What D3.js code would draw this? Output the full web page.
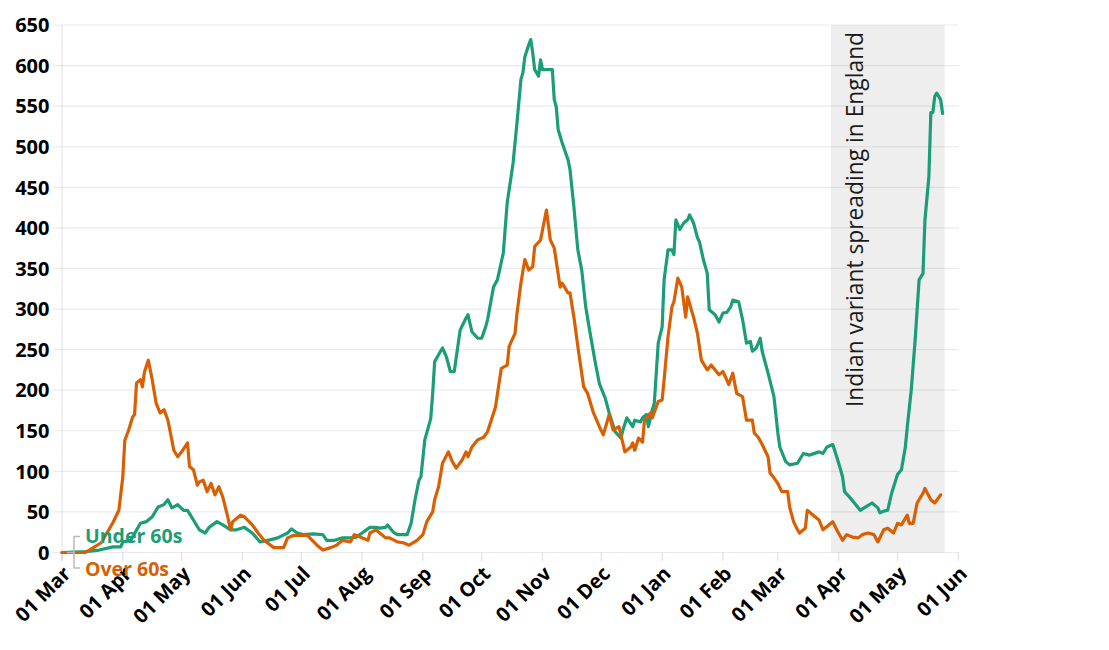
<!DOCTYPE html>
<html>
<head>
<meta charset="utf-8">
<script src="https://cdn.jsdelivr.net/npm/d3@7"></script>
<style>
  html, body { margin: 0; padding: 0; background: #fff; }
  svg { display: block; }
</style>
</head>
<body>
<svg id="chart" width="1109" height="650"></svg>
<script>
// ---- DATA ----
const yTicks = [0, 50, 100, 150, 200, 250, 300, 350, 400, 450, 500, 550, 600, 650];
const seriesNames = ["Under 60s", "Over 60s"];
const annotationText = "Indian variant spreading in England";
const shadeRange = ["2021-03-28", "2021-05-25"];

const underDates = ["2020-03-01","2020-03-13","2020-03-20","2020-03-27","2020-03-31","2020-04-01","2020-04-05","2020-04-10","2020-04-13","2020-04-16","2020-04-19","2020-04-22","2020-04-24","2020-04-26","2020-04-29","2020-05-02","2020-05-04","2020-05-07","2020-05-10","2020-05-13","2020-05-15","2020-05-19","2020-05-22","2020-05-26","2020-05-29","2020-06-02","2020-06-06","2020-06-10","2020-06-14","2020-06-19","2020-06-24","2020-06-26","2020-06-29","2020-07-02","2020-07-07","2020-07-12","2020-07-14","2020-07-18","2020-07-22","2020-07-26","2020-07-29","2020-08-01","2020-08-05","2020-08-08","2020-08-10","2020-08-13","2020-08-14","2020-08-17","2020-08-19","2020-08-24","2020-08-26","2020-08-28","2020-08-30","2020-08-31","2020-09-02","2020-09-05","2020-09-06","2020-09-07","2020-09-10","2020-09-11","2020-09-13","2020-09-15","2020-09-17","2020-09-20","2020-09-23","2020-09-24","2020-09-26","2020-09-29","2020-10-01","2020-10-03","2020-10-04","2020-10-07","2020-10-09","2020-10-12","2020-10-14","2020-10-17","2020-10-19","2020-10-21","2020-10-22","2020-10-23","2020-10-25","2020-10-26","2020-10-27","2020-10-28","2020-10-30","2020-10-31","2020-11-01","2020-11-06","2020-11-07","2020-11-08","2020-11-09","2020-11-11","2020-11-14","2020-11-15","2020-11-17","2020-11-19","2020-11-21","2020-11-23","2020-11-25","2020-11-28","2020-11-30","2020-12-03","2020-12-05","2020-12-08","2020-12-11","2020-12-12","2020-12-14","2020-12-17","2020-12-18","2020-12-21","2020-12-22","2020-12-24","2020-12-25","2020-12-27","2020-12-28","2020-12-29","2020-12-30","2021-01-01","2021-01-02","2021-01-04","2021-01-06","2021-01-07","2021-01-08","2021-01-10","2021-01-12","2021-01-14","2021-01-15","2021-01-17","2021-01-19","2021-01-20","2021-01-22","2021-01-24","2021-01-25","2021-01-28","2021-01-30","2021-02-01","2021-02-03","2021-02-05","2021-02-06","2021-02-09","2021-02-11","2021-02-13","2021-02-15","2021-02-16","2021-02-18","2021-02-20","2021-02-21","2021-02-24","2021-02-27","2021-03-01","2021-03-02","2021-03-05","2021-03-07","2021-03-11","2021-03-14","2021-03-17","2021-03-22","2021-03-24","2021-03-26","2021-03-29","2021-03-31","2021-04-02","2021-04-03","2021-04-04","2021-04-07","2021-04-09","2021-04-12","2021-04-14","2021-04-18","2021-04-21","2021-04-22","2021-04-24","2021-04-26","2021-04-28","2021-05-01","2021-05-03","2021-05-05","2021-05-06","2021-05-08","2021-05-10","2021-05-12","2021-05-14","2021-05-15","2021-05-17","2021-05-18","2021-05-19","2021-05-20","2021-05-21","2021-05-23","2021-05-24"];
const underValues = [0,1,3,7,7,13,15,36,38,44,56,59,65,55,59,52,52,40,28,24,31,38,34,28,28,31,24,13,15,18,24,29,24,22,23,22,15,15,18,18,19,24,31,31,30,31,34,25,22,22,36,65,89,93,139,165,196,235,248,252,241,223,223,274,289,293,272,264,264,278,287,327,336,369,431,480,530,583,591,611,626,632,616,595,587,607,595,595,558,549,521,505,484,472,426,373,348,303,274,233,208,190,172,149,141,151,166,155,163,161,166,170,155,176,184,221,258,278,336,373,373,367,410,398,406,410,416,406,388,383,361,344,299,293,284,295,296,303,311,309,287,258,260,248,252,264,248,221,192,147,130,112,108,110,122,120,124,122,130,133,118,102,93,75,67,61,52,55,61,55,49,51,52,73,96,102,130,155,200,262,336,344,410,463,542,542,562,566,558,541];

const overDates = ["2020-03-01","2020-03-13","2020-03-17","2020-03-21","2020-03-27","2020-03-30","2020-04-01","2020-04-02","2020-04-04","2020-04-06","2020-04-07","2020-04-08","2020-04-10","2020-04-11","2020-04-12","2020-04-14","2020-04-16","2020-04-18","2020-04-20","2020-04-22","2020-04-24","2020-04-25","2020-04-27","2020-04-29","2020-05-01","2020-05-04","2020-05-05","2020-05-07","2020-05-09","2020-05-10","2020-05-12","2020-05-14","2020-05-16","2020-05-18","2020-05-20","2020-05-22","2020-05-24","2020-05-26","2020-05-27","2020-05-31","2020-06-02","2020-06-06","2020-06-09","2020-06-12","2020-06-17","2020-06-22","2020-06-24","2020-06-27","2020-06-30","2020-07-04","2020-07-05","2020-07-09","2020-07-12","2020-07-16","2020-07-19","2020-07-22","2020-07-26","2020-07-28","2020-07-31","2020-08-04","2020-08-05","2020-08-08","2020-08-10","2020-08-13","2020-08-15","2020-08-19","2020-08-22","2020-08-25","2020-08-29","2020-09-01","2020-09-03","2020-09-06","2020-09-07","2020-09-09","2020-09-11","2020-09-14","2020-09-16","2020-09-18","2020-09-21","2020-09-23","2020-09-24","2020-09-26","2020-09-29","2020-10-02","2020-10-04","2020-10-08","2020-10-11","2020-10-14","2020-10-15","2020-10-18","2020-10-19","2020-10-21","2020-10-23","2020-10-25","2020-10-27","2020-10-28","2020-10-31","2020-11-03","2020-11-05","2020-11-07","2020-11-10","2020-11-11","2020-11-14","2020-11-15","2020-11-17","2020-11-19","2020-11-22","2020-11-24","2020-11-27","2020-11-30","2020-12-02","2020-12-05","2020-12-07","2020-12-10","2020-12-13","2020-12-16","2020-12-17","2020-12-18","2020-12-20","2020-12-22","2020-12-23","2020-12-26","2020-12-27","2020-12-30","2021-01-01","2021-01-02","2021-01-04","2021-01-06","2021-01-07","2021-01-09","2021-01-11","2021-01-13","2021-01-14","2021-01-17","2021-01-19","2021-01-21","2021-01-23","2021-01-24","2021-01-26","2021-01-28","2021-01-30","2021-02-01","2021-02-04","2021-02-06","2021-02-08","2021-02-11","2021-02-13","2021-02-16","2021-02-17","2021-02-19","2021-02-21","2021-02-24","2021-02-25","2021-02-27","2021-03-01","2021-03-03","2021-03-06","2021-03-07","2021-03-09","2021-03-11","2021-03-12","2021-03-15","2021-03-16","2021-03-19","2021-03-22","2021-03-24","2021-03-29","2021-03-31","2021-04-03","2021-04-05","2021-04-08","2021-04-11","2021-04-13","2021-04-16","2021-04-19","2021-04-21","2021-04-24","2021-04-26","2021-04-29","2021-05-01","2021-05-03","2021-05-06","2021-05-07","2021-05-09","2021-05-11","2021-05-14","2021-05-15","2021-05-18","2021-05-20","2021-05-23"];
const overValues = [0,0,6,12,37,52,93,138,151,167,170,209,213,204,222,237,213,184,172,176,163,151,126,118,124,135,106,102,83,87,89,75,85,71,81,68,49,28,38,46,44,34,24,15,6,6,18,21,21,21,19,9,3,6,9,15,13,22,19,15,24,28,24,18,18,13,12,9,15,22,38,50,65,81,110,124,112,104,114,124,118,130,139,142,149,179,227,231,254,270,295,332,361,348,352,377,385,422,385,375,327,332,320,320,290,254,204,196,172,155,145,170,151,155,124,130,135,126,141,136,163,172,166,186,188,213,266,303,309,338,327,290,315,290,270,237,229,225,231,225,219,223,207,221,196,192,163,163,147,142,133,118,98,92,85,75,75,56,38,28,24,30,52,46,40,28,38,28,15,22,19,18,22,24,22,13,28,30,24,36,34,46,36,36,61,73,79,65,61,71];

// ---- CHART ----
const svg = d3.select("#chart");
const parse = d3.timeParse("%Y-%m-%d");
const colors = { under: "#1b9e77", over: "#d95f02" };

const x = d3.scaleTime()
  .domain([parse("2020-03-01"), parse("2021-06-01")])
  .range([62, 958.3]);
const y = d3.scaleLinear().domain([0, 650]).range([552.5, 25]);

const labelFont = "'Open Sans', 'Noto Sans', sans-serif";

// shaded period
svg.append("rect")
  .attr("x", x(parse(shadeRange[0])))
  .attr("y", y(650))
  .attr("width", x(parse(shadeRange[1])) - x(parse(shadeRange[0])))
  .attr("height", y(0) - y(650))
  .attr("fill", "#eeeeee");

// horizontal grid + y labels
const gy = svg.append("g");
gy.selectAll("line.grid").data(yTicks).enter().append("line")
  .attr("x1", 53).attr("x2", 959)
  .attr("y1", d => y(d)).attr("y2", d => y(d))
  .attr("stroke", "rgba(0,0,0,0.08)").attr("stroke-width", 1.2);
gy.selectAll("text").data(yTicks).enter().append("text")
  .attr("x", 49.5).attr("y", d => y(d))
  .attr("dy", "0.36em")
  .attr("text-anchor", "end")
  .attr("font-family", labelFont)
  .attr("font-weight", 700)
  .attr("font-size", 20)
  .attr("fill", "#000")
  .text(d => d);

// y axis line
svg.append("line")
  .attr("x1", 62).attr("x2", 62).attr("y1", y(650)).attr("y2", 561)
  .attr("stroke", "rgba(0,0,0,0.08)").attr("stroke-width", 1.5);

// x axis ticks + labels
const xTicks = x.ticks(d3.timeMonth.every(1));
const fmt = d3.timeFormat("%d %b");
const gx = svg.append("g");
gx.selectAll("line").data(xTicks).enter().append("line")
  .attr("x1", d => x(d)).attr("x2", d => x(d))
  .attr("y1", 552.5).attr("y2", 561)
  .attr("stroke", "rgba(0,0,0,0.1)").attr("stroke-width", 1.5);
gx.selectAll("text").data(xTicks).enter().append("text")
  .attr("transform", d => `translate(${x(d) + 10},${575}) rotate(-45)`)
  .attr("text-anchor", "end")
  .attr("font-family", labelFont)
  .attr("font-weight", 700)
  .attr("font-size", 20)
  .attr("fill", "#000")
  .text(d => fmt(d));

// lines
const line = d3.line()
  .x(d => x(d.date))
  .y(d => y(d.value))
  .curve(d3.curveLinear);

const underData = underDates.map((d, i) => ({ date: parse(d), value: underValues[i] }));
const overData = overDates.map((d, i) => ({ date: parse(d), value: overValues[i] }));

svg.append("path").datum(underData)
  .attr("d", line)
  .attr("fill", "none").attr("stroke", colors.under)
  .attr("stroke-width", 3.2).attr("stroke-linejoin", "round").attr("stroke-linecap", "round");
svg.append("path").datum(overData)
  .attr("d", line)
  .attr("fill", "none").attr("stroke", colors.over)
  .attr("stroke-width", 3.2).attr("stroke-linejoin", "round").attr("stroke-linecap", "round");

// legend bracket
svg.append("path")
  .attr("d", "M80,536.5H74V568H80M67,552.5H74")
  .attr("fill", "none").attr("stroke", "#bbbbbb").attr("stroke-width", 1.5);

svg.append("text")
  .attr("x", 85).attr("y", 543)
  .attr("font-family", labelFont).attr("font-weight", 700).attr("font-size", 19.5)
  .attr("fill", colors.under).text(seriesNames[0]);
svg.append("text")
  .attr("x", 85).attr("y", 576)
  .attr("font-family", labelFont).attr("font-weight", 700).attr("font-size", 19.5)
  .attr("fill", colors.over).text(seriesNames[1]);

// annotation
svg.append("text")
  .attr("transform", `translate(863,407) rotate(-90)`)
  .attr("text-anchor", "start")
  .attr("font-family", labelFont)
  .attr("font-size", 22.8)
  .attr("fill", "#1a1a1a")
  .text(annotationText);
</script>
</body>
</html>
